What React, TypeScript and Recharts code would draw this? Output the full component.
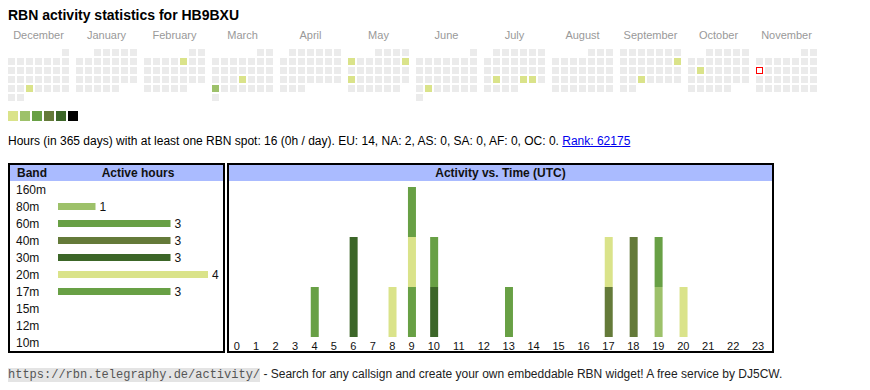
import {
  ScatterChart,
  Scatter,
  BarChart,
  Bar,
  Cell,
  XAxis,
  YAxis,
  LabelList,
} from "recharts";

const FONT = '"Liberation Sans", Arial, Helvetica, sans-serif';

// calendar
const calendarMonths = [
  "2024-12", "2025-01", "2025-02", "2025-03", "2025-04", "2025-05",
  "2025-06", "2025-07", "2025-08", "2025-09", "2025-10", "2025-11",
];
const monthNames = [
  "December", "January", "February", "March", "April", "May",
  "June", "July", "August", "September", "October", "November",
];
const activeDays = [
  "2024-12-25", "2025-02-07", "2025-03-20", "2025-03-24", "2025-05-05",
  "2025-05-11", "2025-05-19", "2025-06-24", "2025-07-22", "2025-07-25",
  "2025-07-26", "2025-09-14", "2025-09-24", "2025-10-14",
];
const activeLevels = [1, 1, 1, 2, 1, 1, 1, 1, 1, 1, 1, 1, 1, 1];
const today = "2025-11-10";

const levelColors = ["#ebebeb", "#dae38a", "#9dc16a", "#68a045", "#647a39", "#3c6628", "#000000"];

// bands
const bands = ["160m", "80m", "60m", "40m", "30m", "20m", "17m", "15m", "12m", "10m"];
const bandColors = ["#c9d47a", "#9dc16a", "#68a045", "#647a39", "#3c6628", "#dae38a", "#68a045", "#b5cf6b", "#8ca252", "#637939"];
const activeHours = [0, 1, 3, 3, 3, 4, 3, 0, 0, 0];

// hourly activity per band (UTC hours 0..23)
const hours = ["0", "1", "2", "3", "4", "5", "6", "7", "8", "9", "10", "11",
  "12", "13", "14", "15", "16", "17", "18", "19", "20", "21", "22", "23"];
const hourly160m = [0, 0, 0, 0, 0, 0, 0, 0, 0, 0, 0, 0, 0, 0, 0, 0, 0, 0, 0, 0, 0, 0, 0, 0];
const hourly80m = [0, 0, 0, 0, 0, 0, 0, 0, 0, 0, 0, 0, 0, 0, 0, 0, 0, 0, 0, 1, 0, 0, 0, 0];
const hourly60m = [0, 0, 0, 0, 1, 0, 0, 0, 0, 1, 0, 0, 0, 0, 0, 0, 0, 0, 0, 1, 0, 0, 0, 0];
const hourly40m = [0, 0, 0, 0, 0, 0, 0, 0, 0, 0, 0, 0, 0, 0, 0, 0, 0, 1, 2, 0, 0, 0, 0, 0];
const hourly30m = [0, 0, 0, 0, 0, 0, 2, 0, 0, 0, 1, 0, 0, 0, 0, 0, 0, 0, 0, 0, 0, 0, 0, 0];
const hourly20m = [0, 0, 0, 0, 0, 0, 0, 0, 1, 1, 0, 0, 0, 0, 0, 0, 0, 1, 0, 0, 1, 0, 0, 0];
const hourly17m = [0, 0, 0, 0, 0, 0, 0, 0, 0, 1, 1, 0, 0, 1, 0, 0, 0, 0, 0, 0, 0, 0, 0, 0];
const hourly15m = [0, 0, 0, 0, 0, 0, 0, 0, 0, 0, 0, 0, 0, 0, 0, 0, 0, 0, 0, 0, 0, 0, 0, 0];
const hourly12m = [0, 0, 0, 0, 0, 0, 0, 0, 0, 0, 0, 0, 0, 0, 0, 0, 0, 0, 0, 0, 0, 0, 0, 0];
const hourly10m = [0, 0, 0, 0, 0, 0, 0, 0, 0, 0, 0, 0, 0, 0, 0, 0, 0, 0, 0, 0, 0, 0, 0, 0];
const hourlyByBand = [hourly160m, hourly80m, hourly60m, hourly40m, hourly30m, hourly20m, hourly17m, hourly15m, hourly12m, hourly10m];

// --- derived tables ---
const calendarCells = calendarMonths.flatMap((ym, m) => {
  const [y, mo] = ym.split("-").map(Number);
  const first = (new Date(Date.UTC(y, mo - 1, 1)).getUTCDay() + 6) % 7;
  const days = new Date(Date.UTC(y, mo, 0)).getUTCDate();
  return Array.from({ length: days }, (_, i) => {
    const slot = first + i;
    const date = `${ym}-${String(i + 1).padStart(2, "0")}`;
    const k = activeDays.indexOf(date);
    return {
      x: m * 68 + (slot % 7) * 9,
      y: Math.floor(slot / 7),
      level: k >= 0 ? activeLevels[k] : 0,
      today: date === today,
    };
  });
});
const monthTicks = calendarMonths.map((_, m) => m * 68 + 27);

const bandRows = bands.map((band, i) => ({ band, hours: activeHours[i] }));

// html table style columns: width grows with label length
const hourX: number[] = [];
hours.reduce((acc, h) => {
  const w = 13.94 + 5.5 * h.length;
  hourX.push(acc + w / 2);
  return acc + w;
}, 0);
const hourRows = hours.map((h, i) => {
  const row: Record<string, number | string> = { hour: h, x: hourX[i] };
  bands.forEach((b, j) => (row[b] = hourlyByBand[j][i]));
  return row;
});

const DayCell = (p: any) => {
  const { cx, cy, payload } = p;
  if (payload.today)
    return <rect x={cx - 3} y={cy - 3} width={6} height={6} fill="#fff" stroke="#f00" strokeWidth={1} />;
  return <rect x={cx - 3.5} y={cy - 3.5} width={7} height={7} fill={levelColors[payload.level]} />;
};

const BandTick = (p: any) => (
  <text x={6} y={p.y} dy="0.355em" fontSize={12} fontFamily={FONT} fill="#111">
    {p.payload.value}
  </text>
);

const abs = (left: number, top: number, extra: React.CSSProperties = {}): React.CSSProperties => ({
  position: "absolute",
  left,
  top,
  ...extra,
});

export default function App() {
  return (
    <div style={{ position: "absolute", left: 0, top: 0, width: 870, height: 390, fontFamily: FONT, background: "#fff", overflow: "hidden" }}>
      <div style={abs(8, 8, { fontSize: 14, lineHeight: "14px", fontWeight: "bold", color: "#000", whiteSpace: "nowrap" })}>
        RBN activity statistics for HB9BXU
      </div>

      <div style={abs(0, 25)}>
        <ScatterChart width={830} height={80} margin={{ top: 0, right: 0, bottom: 0, left: 0 }}>
          <XAxis
            type="number"
            dataKey="x"
            orientation="top"
            height={20}
            domain={[-11.5, 818.5]}
            allowDataOverflow
            ticks={monthTicks}
            interval={0}
            tickFormatter={(_v: number, i: number) => monthNames[i]}
            axisLine={false}
            tickLine={false}
            tickSize={0}
            tickMargin={6}
            tick={{ fontSize: 11, fill: "#999", fontFamily: FONT }}
          />
          <YAxis type="number" dataKey="y" hide reversed domain={[-5 / 6, 35 / 6]} allowDataOverflow />
          <Scatter data={calendarCells} shape={DayCell} isAnimationActive={false} />
        </ScatterChart>
      </div>

      {levelColors.slice(1).map((c, i) => (
        <div key={c} style={abs(8 + i * 12, 111, { width: 10, height: 10, background: c })} />
      ))}

      <div style={abs(8, 135, { fontSize: 12, lineHeight: "12px", color: "#000", whiteSpace: "nowrap" })}>
        Hours (in 365 days) with at least one RBN spot: 16 (0h / day). EU: 14, NA: 2, AS: 0, SA: 0, AF: 0, OC: 0.{" "}
        <span style={{ color: "#0000ee", textDecoration: "underline" }}>Rank: 62175</span>
      </div>

      {/* band table */}
      <div style={abs(8, 163, { width: 217, height: 190, border: "2px solid #000", boxSizing: "border-box" })} />
      <div style={abs(10, 165, { width: 213, height: 16, background: "#aabbff" })} />
      <div style={abs(17, 167, { fontSize: 12, lineHeight: "12px", fontWeight: "bold", color: "#111" })}>Band</div>
      <div style={abs(58, 167, { width: 160, textAlign: "center", fontSize: 12, lineHeight: "12px", fontWeight: "bold", color: "#111" })}>
        Active hours
      </div>
      <div style={abs(10, 181)}>
        <BarChart layout="vertical" width={213} height={170} data={bandRows} margin={{ top: 0, right: 15, bottom: 0, left: 0 }}>
          <XAxis type="number" hide domain={[0, 4]} allowDataOverflow />
          <YAxis type="category" dataKey="band" width={48} axisLine={false} tickLine={false} tick={BandTick} interval={0} />
          <Bar dataKey="hours" barSize={7} isAnimationActive={false}>
            {bandRows.map((r, i) => (
              <Cell key={r.band} fill={bandColors[i]} />
            ))}
            <LabelList
              dataKey="hours"
              position="right"
              offset={4}
              formatter={(v: any) => (v ? v : "")}
              style={{ fontSize: 12, fill: "#111", fontFamily: FONT }}
            />
          </Bar>
        </BarChart>
      </div>

      {/* activity vs time */}
      <div style={abs(227, 163, { width: 547, height: 190, border: "2px solid #000", boxSizing: "border-box" })} />
      <div style={abs(229, 165, { width: 543, height: 16, background: "#aabbff" })} />
      <div style={abs(229, 167, { width: 543, textAlign: "center", fontSize: 12, lineHeight: "12px", fontWeight: "bold", color: "#111" })}>
        Activity vs. Time (UTC)
      </div>
      <div style={abs(229, 181)}>
        <BarChart width={543} height={170} data={hourRows} margin={{ top: 6, right: 0, bottom: 0, left: 0 }}>
          <XAxis
            type="number"
            dataKey="x"
            domain={[2, 545]}
            allowDataOverflow
            ticks={hourX}
            interval={0}
            tickFormatter={(_v: number, i: number) => hours[i]}
            axisLine={false}
            tickLine={false}
            tickSize={0}
            tickMargin={5}
            height={14}
            tick={{ fontSize: 11, fill: "#111", fontFamily: FONT }}
          />
          <YAxis type="number" hide domain={[0, 3]} allowDataOverflow />
          {bands.map((b, i) => (
            <Bar key={b} dataKey={b} stackId="a" barSize={8} fill={bandColors[i]} isAnimationActive={false} />
          ))}
        </BarChart>
      </div>

      <div style={abs(8, 367, { fontSize: 12, lineHeight: "14px", color: "#222", whiteSpace: "nowrap" })}>
        <span style={{ fontFamily: '"Liberation Mono", "Courier New", monospace', fontSize: 12, background: "#e4e4e4", color: "#555" }}>
          https://rbn.telegraphy.de/activity/
        </span>{" "}
        - Search for any callsign and create your own embeddable RBN widget! A free service by DJ5CW.
      </div>
    </div>
  );
}
